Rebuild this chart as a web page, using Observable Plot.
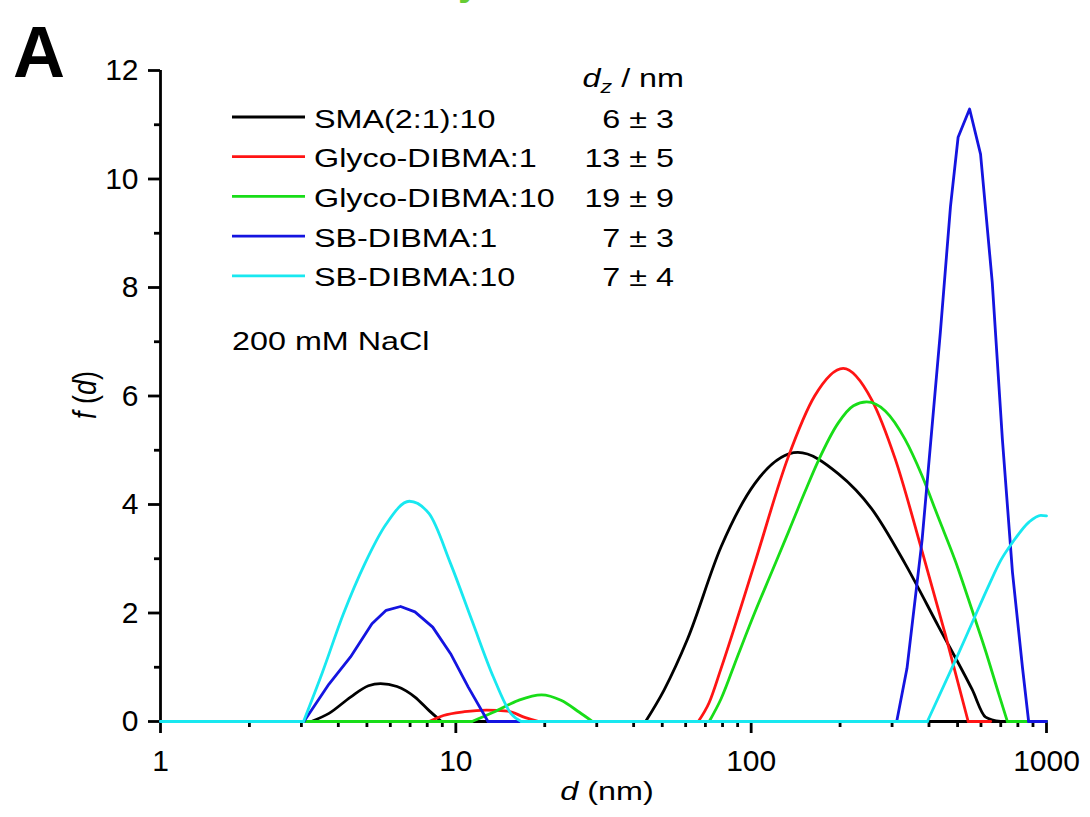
<!DOCTYPE html>
<html>
<head>
<meta charset="utf-8">
<script src="https://cdn.jsdelivr.net/npm/d3@7"></script>
<script src="https://cdn.jsdelivr.net/npm/@observablehq/plot@0.6"></script>
<style>
  html, body { margin: 0; padding: 0; background: #fff; }
  #wrap { position: relative; width: 1090px; height: 817px; overflow: hidden; font-family: "Liberation Sans", Arial, sans-serif; }
  #wrap svg.overlay { position: absolute; left: 0; top: 0; }
</style>
</head>
<body>
<div id="wrap"></div>
<script>
// ---- tick values ----
const xMajor = [1, 10, 100, 1000];
const xMinor = [2, 3, 4, 5, 6, 7, 8, 9, 20, 30, 40, 50, 60, 70, 80, 90, 200, 300, 400, 500, 600, 700, 800, 900];
const yMajor = [0, 2, 4, 6, 8, 10, 12];
const yMinor = [1, 3, 5, 7, 9, 11];

// ---- series (d in nm, f(d)) ----
const seriesNames = ["SMA(2:1):10", "Glyco-DIBMA:1", "Glyco-DIBMA:10", "SB-DIBMA:1", "SB-DIBMA:10"];
const seriesColors = ["#000000", "#ff1414", "#18dd18", "#1414e0", "#18e8f0"];
const seriesDz = ["6 ± 3", "13 ± 5", "19 ± 9", "7 ± 3", "7 ± 4"];
const seriesCurves = ["monotone-x", "monotone-x", "monotone-x", "linear", "monotone-x"];

const sma = [[1,0],[3.24,0],[3.72,0.15],[4.4,0.45],[5.06,0.66],[5.56,0.70],[6.32,0.645],[7.27,0.45],[8.12,0.20],[8.94,0],
  [43.9,0],[50.7,0.58],[60.9,1.52],[79.1,3.22],[102.7,4.38],[144,4.96],[197,4.57],[256,3.92],[332,2.91],[431,1.75],[560,0.59],[622,0.08],[699,0],[1000,0]];
const glyco1 = [[1,0],[8.12,0],[9.08,0.11],[10.7,0.18],[12.7,0.21],[15.0,0.19],[17.2,0.07],[19.1,0],
  [66.2,0],[72.1,0.35],[79.1,0.98],[102.7,2.91],[133,4.85],[164,6.0],[205,6.51],[256,5.93],[307,4.85],[379,3.14],[455,1.59],[543,0],[647,0]];
const glyco10 = [[1,0],[11.34,0],[13.4,0.17],[16.3,0.39],[19.5,0.49],[22.7,0.39],[26.2,0.17],[29.0,0],
  [72.1,0],[79.1,0.42],[89.9,1.2],[102.7,2.0],[117.3,2.75],[133.9,3.5],[151.7,4.22],[168.6,4.8],[197,5.5],[222,5.82],[246,5.89],[285,5.72],[332,5.2],[379,4.53],[431,3.75],[492,2.95],[560,2.05],[622,1.3],[690,0.5],[737,0],[1000,0]];
const sb1 = [[1,0],[3.06,0],[3.72,0.69],[4.4,1.19],[5.2,1.80],[5.81,2.05],[6.5,2.12],[7.27,2.02],[8.35,1.74],[9.6,1.25],[11.03,0.63],[12.85,0],
  [311,0],[337,0.98],[379,3.34],[437,7.17],[473,9.49],[502,10.77],[549,11.29],[598,10.46],[655,8.1],[709,5.2],[767,2.75],[829,1.0],[870,0],[1000,0]];
const sb10 = [[1,0],[3.05,0],[3.52,0.88],[4.16,1.98],[4.92,2.91],[5.81,3.64],[6.96,4.06],[8.12,3.83],[9.6,2.91],[11.34,1.86],[13.4,0.82],[15.4,0.14],[16.65,0],
  [395,0],[492,1.13],[560,1.82],[639,2.52],[700,2.97],[767,3.3],[874,3.68],[957,3.80],[1000,3.79]];
const seriesData = [sma, glyco1, glyco10, sb1, sb10];

// split each series into baseline (zero) runs and peak runs so peaks start with a corner
function segments(points) {
  const rows = [];
  let seg = 0, prevType = null;
  for (let i = 0; i < points.length - 1; i++) {
    const a = points[i], b = points[i + 1];
    const type = (a[1] === 0 && b[1] === 0) ? "base" : "peak";
    if (type !== prevType) { seg++; rows.push({d: a[0], f: a[1], seg}); prevType = type; }
    rows.push({d: b[0], f: b[1], seg});
  }
  return rows;
}

const font = '"Liberation Sans", Arial, Helvetica, sans-serif';
const AX = 2.8;

const lineMarks = seriesData.map((pts, i) =>
  Plot.line(segments(pts), {x: "d", y: "f", z: "seg", stroke: seriesColors[i], strokeWidth: 2.8, curve: seriesCurves[i]})
);

const chart = Plot.plot({
  width: 1090,
  height: 817,
  marginLeft: 160,
  marginRight: 44,
  marginTop: 70,
  marginBottom: 96,
  x: {type: "log", domain: [1, 1000], label: null},
  y: {domain: [0, 12], label: null},
  style: {fontFamily: font, fontSize: "30px", color: "#000", background: "transparent"},
  marks: [
    Plot.axisX({ticks: xMinor, tickSize: 6, strokeWidth: AX, tickFormat: () => "", label: null}),
    Plot.axisX({ticks: xMajor, tickSize: 12, strokeWidth: AX, tickPadding: 16, tickFormat: d => String(d), label: null, fontSize: 30}),
    Plot.axisY({ticks: yMinor, tickSize: 6, strokeWidth: AX, tickFormat: () => "", label: null}),
    Plot.axisY({ticks: yMajor, tickSize: 12, strokeWidth: AX, tickPadding: 10, tickFormat: d => String(d), label: null, fontSize: 30}),
    Plot.ruleY([0], {strokeWidth: AX}),
    Plot.ruleX([1], {strokeWidth: AX}),
    ...lineMarks
  ]
});

const wrap = document.getElementById("wrap");
wrap.appendChild(chart);

// ---- overlay: legend, labels, panel letter ----
const NS = "http://www.w3.org/2000/svg";
const ov = document.createElementNS(NS, "svg");
ov.setAttribute("class", "overlay");
ov.setAttribute("width", 1090);
ov.setAttribute("height", 817);
ov.setAttribute("font-family", font);
wrap.appendChild(ov);

const SX = 1.22; // the reference lettering is slightly wide
function txt(x, y, s, opts = {}) {
  const t = document.createElementNS(NS, "text");
  const sx = opts.sx || 1;
  t.setAttribute("transform", opts.transform || `translate(${x},${y}) scale(${sx},1)`);
  t.setAttribute("font-size", opts.size || 26.5);
  if (opts.anchor) t.setAttribute("text-anchor", opts.anchor);
  if (opts.weight) t.setAttribute("font-weight", opts.weight);
  if (opts.fill) t.setAttribute("fill", opts.fill);
  if (s != null) t.textContent = s;
  ov.appendChild(t);
  return t;
}
function tspan(parent, s, attrs = {}) {
  const t = document.createElementNS(NS, "tspan");
  for (const k in attrs) t.setAttribute(k, attrs[k]);
  t.textContent = s;
  parent.appendChild(t);
  return t;
}

// cropped green fragment at top edge
txt(458, -5, "y", {size: 40, weight: "bold", fill: "#66cc33"});
// panel letter
txt(13, 77, "A", {size: 72, weight: "bold"});

// legend
const legY0 = 117, legDy = 39.7;
seriesNames.forEach((name, i) => {
  const y = legY0 + i * legDy;
  const l = document.createElementNS(NS, "line");
  l.setAttribute("x1", 232); l.setAttribute("x2", 305);
  l.setAttribute("y1", y); l.setAttribute("y2", y);
  l.setAttribute("stroke", seriesColors[i]); l.setAttribute("stroke-width", 2.8);
  ov.appendChild(l);
  txt(314, y + 10.5, name, {sx: SX});
  txt(674, y + 10.5, seriesDz[i], {sx: SX, anchor: "end"});
});
// header d_z / nm
const hdr = txt(684, 87, null, {sx: SX, anchor: "end"});
tspan(hdr, "d", {"font-style": "italic"});
tspan(hdr, "z", {"font-style": "italic", "font-size": 19, dy: 6});
tspan(hdr, " / nm", {dy: -6});

txt(232, 350, "200 mM NaCl", {sx: SX});

// axis titles
const xl = txt(607, 800, null, {sx: SX, anchor: "middle"});
tspan(xl, "d", {"font-style": "italic"});
tspan(xl, " (nm)");
const yl = txt(0, 0, null, {size: 27, anchor: "middle", transform: "translate(96,395) rotate(-90) scale(1,1.2)"});
tspan(yl, "f", {"font-style": "italic"});
tspan(yl, " (");
tspan(yl, "d", {"font-style": "italic"});
tspan(yl, ")");
</script>
</body>
</html>
